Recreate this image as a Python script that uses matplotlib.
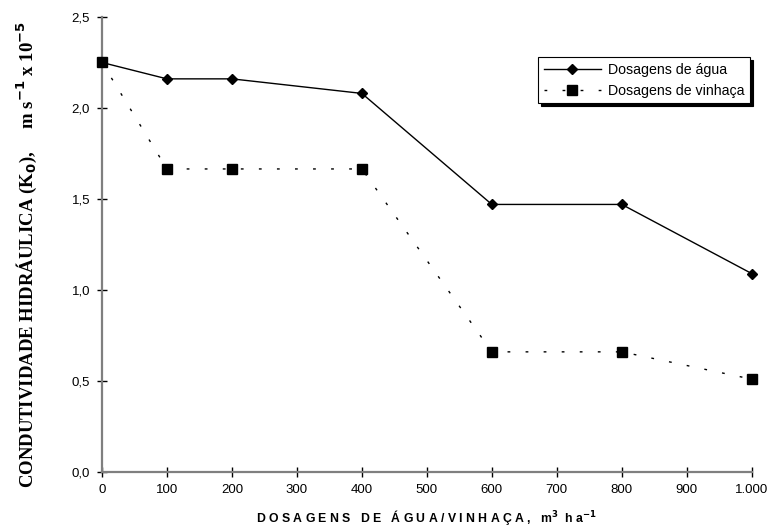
import matplotlib
matplotlib.use("Agg")
import matplotlib.pyplot as plt
from matplotlib.ticker import FixedLocator

# Dosagens aplicadas (m3/ha) e condutividade hidráulica medida
dosagens = [0, 100, 200, 400, 600, 800, 1000]
k0_agua = [2.25, 2.16, 2.16, 2.08, 1.47, 1.47, 1.09]
k0_vinhaca = [2.25, 1.665, 1.665, 1.665, 0.66, 0.66, 0.51]

x_ticks = [0, 100, 200, 300, 400, 500, 600, 700, 800, 900, 1000]
x_ticklabels = ["0", "100", "200", "300", "400", "500", "600", "700", "800", "900", "1.000"]
y_ticks = [0.0, 0.5, 1.0, 1.5, 2.0, 2.5]
y_ticklabels = ["0,0", "0,5", "1,0", "1,5", "2,0", "2,5"]

plt.rcParams["font.family"] = ["Liberation Sans", "DejaVu Sans"]

fig = plt.figure(figsize=(7.69, 5.29), dpi=100)
ax = fig.add_axes([0.1326, 0.1078, 0.845, 0.8601])

ax.plot(dosagens, k0_agua, color="black", lw=1.0, marker="D", markersize=5,
        label="Dosagens de água", clip_on=False, zorder=3)
ax.plot(dosagens, k0_vinhaca, color="black", lw=1.0, linestyle=(0, (2, 11)),
        marker="s", markersize=7, label="Dosagens de vinhaça",
        clip_on=False, zorder=3)

ax.set_xlim(0, 1000)
ax.set_ylim(0, 2.5)
ax.xaxis.set_major_locator(FixedLocator(x_ticks))
ax.set_xticklabels(x_ticklabels)
ax.yaxis.set_major_locator(FixedLocator(y_ticks))
ax.set_yticklabels(y_ticklabels)

for side in ("top", "right"):
    ax.spines[side].set_visible(False)
for side in ("left", "bottom"):
    ax.spines[side].set_color("#7f7f7f")
    ax.spines[side].set_linewidth(1.6)

ax.tick_params(direction="inout", length=7, width=1.0, color="black",
               labelsize=9.5, pad=5)

ax.set_xlabel("D O S A G E N S   D E   Á G U A / V I N H A Ç A ,   m$^{\\mathbf{3}}$  h a$^{\\mathbf{-1}}$",
              fontsize=8.8, fontweight="bold", labelpad=9)
ax.set_ylabel("CONDUTIVIDADE HIDRÁULICA (K$_{\\mathbf{0}}$),     m s$^{\\mathbf{-1}}$ x 10$^{\\mathbf{-5}}$",
              fontsize=13.5, fontweight="bold", family=["Liberation Serif", "DejaVu Serif"])
ax.yaxis.set_label_coords(-0.097, 0.478)

leg = ax.legend(loc="upper right", bbox_to_anchor=(0.997, 0.912), borderaxespad=0,
                fancybox=False, edgecolor="black", framealpha=1,
                shadow={"color": "black", "alpha": 1}, fontsize=10.2,
                handlelength=4.0, handletextpad=0.5, borderpad=0.4,
                labelspacing=0.5)
leg.get_frame().set_linewidth(0.8)

fig.savefig("out.png", dpi=100)
